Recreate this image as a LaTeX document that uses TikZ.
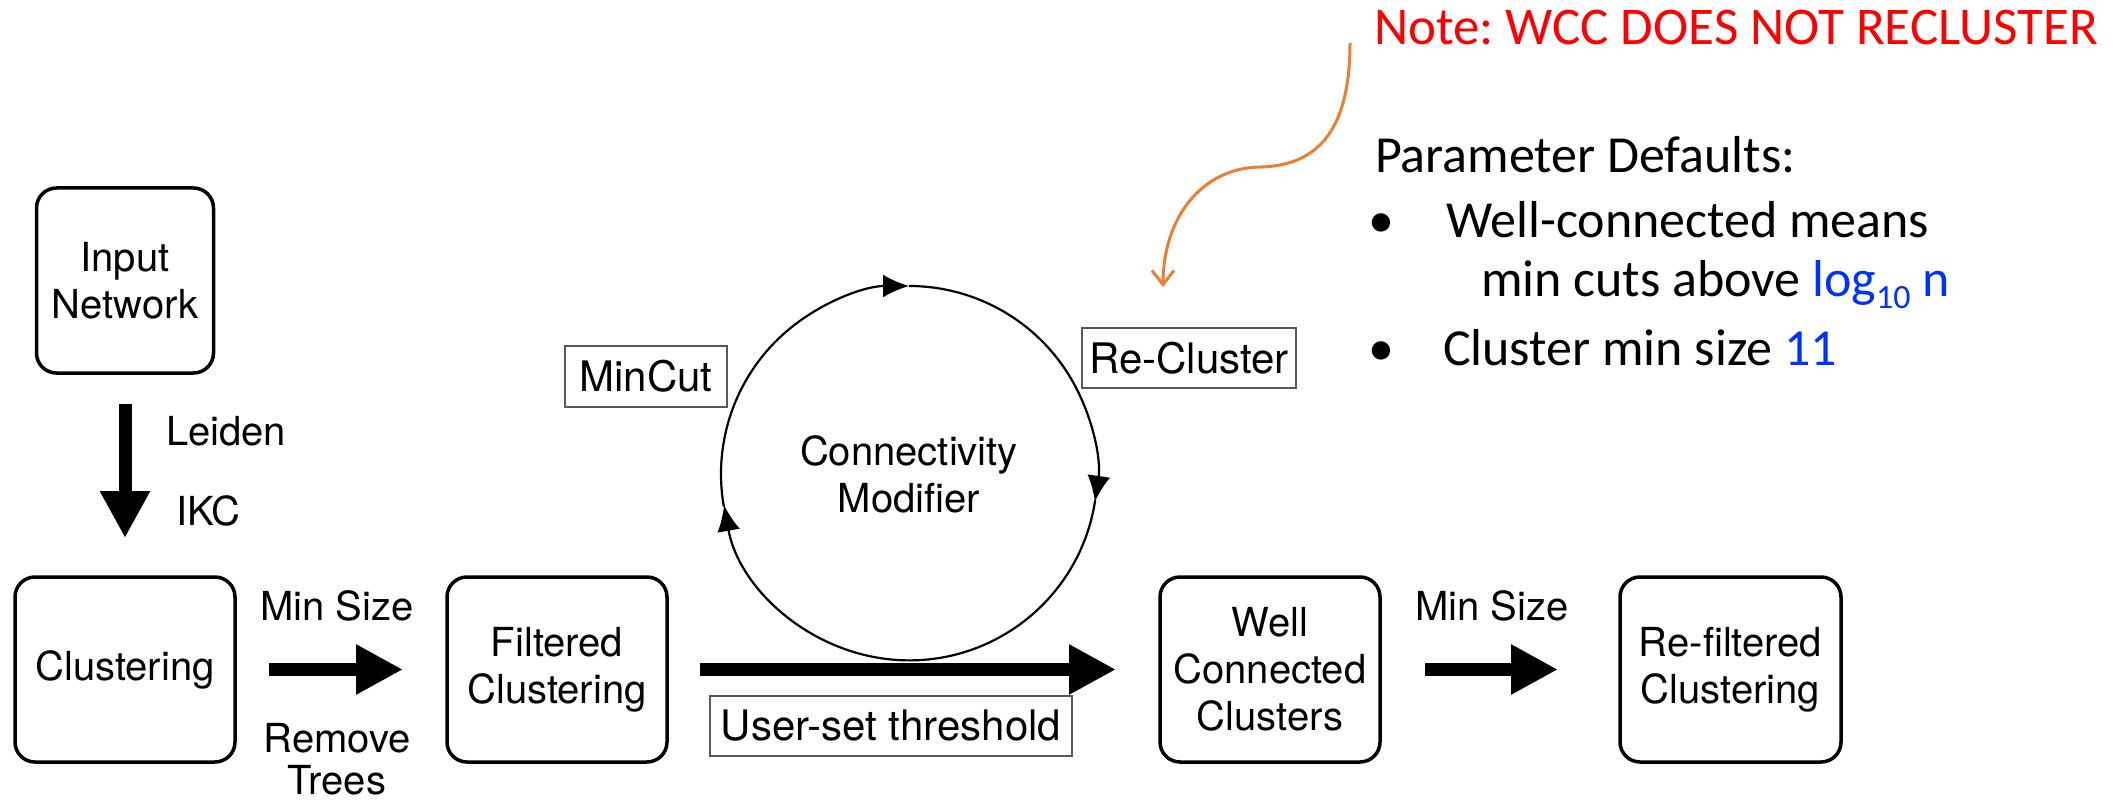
\documentclass[tikz,border=0pt]{standalone}
\usepackage{fontspec}
\setmainfont{TeX Gyre Heros}
\newfontfamily\calfont{Carlito}
\usetikzlibrary{arrows.meta}
\definecolor{noteRed}{RGB}{255,0,0}
\definecolor{valBlue}{RGB}{0,50,255}
\definecolor{curveOrange}{RGB}{237,125,49}
\begin{document}
\frenchspacing
\begin{tikzpicture}[x=1pt,y=1pt,
  stage/.style={draw, line width=3.5pt, rounded corners=20pt, minimum width=220pt, minimum height=185pt, inner sep=0pt, outer sep=0pt, align=center, font=\fontsize{40pt}{47pt}\selectfont},
  lbl/.style={draw=black!65, line width=2pt, inner sep=0pt, outer sep=0pt, minimum height=60pt, font=\fontsize{42pt}{48pt}\selectfont},
  plain/.style={inner sep=0pt, outer sep=0pt, font=\fontsize{40pt}{47pt}\selectfont},
  bigarrow/.style={line width=13pt, -{Triangle[length=47pt,width=47pt]}},
  cyc/.style={line width=2.2pt, -{Latex[length=26pt,width=23pt]}},
  side/.style={inner sep=0pt, outer sep=0pt, anchor=base west, font=\calfont\fontsize{52pt}{60pt}\selectfont},
  callout/.style={draw=curveOrange, line width=3pt, -{Straight Barb[length=14pt,width=22pt]}}
]
\fill[white] (0,0) rectangle (2128,-802);
\useasboundingbox (0,0) rectangle (2128,-802);

% stages
\node[stage, minimum width=177pt] (inp) at (125,-280.5) {Input\\Network};
\node[stage] (clu) at (125,-669.5) {Clustering};
\node[stage] (fil) at (557,-669.5) {Filtered\\Clustering};
\node[stage] (wcc) at (1270,-669.5) {Well\\Connected\\Clusters};
\node[stage, minimum width=221pt] (ref) at (1730.5,-669.5) {Re-filtered\\Clustering};

% big arrows
\draw[bigarrow, shorten <=31pt, shorten >=39pt] (inp) -- (clu);
\draw[bigarrow, shorten <=34pt, shorten >=44pt] (clu) -- (fil);
\draw[bigarrow, shorten <=33pt, shorten >=44pt] (fil) -- (wcc);
\draw[bigarrow, shorten <=45pt, shorten >=62pt] (wcc) -- (ref);

% arrow labels
\node[plain, anchor=base west] (leiden) at (166,-445) {Leiden};
\node[plain, anchor=base west] (ikc) at (176,-525) {IKC};
\node[plain, anchor=base] (ms1) at (337,-620) {Min Size};
\node[plain, anchor=north, align=center, font=\fontsize{40pt}{42pt}\selectfont] (rt) at (337,-723) {Remove\\Trees};
\node[plain, anchor=base] (ms2) at (1492,-620) {Min Size};

% connectivity modifier cycle
\node[circle, minimum size=376pt, inner sep=0pt, outer sep=0pt, align=center, font=\fontsize{40pt}{47pt}\selectfont] (cm) at (909,-474) {Connectivity\\Modifier};
\draw[cyc] (cm.190) arc[start angle=190, end angle=90, radius=188pt];
\draw[cyc] (cm.90) arc[start angle=90, end angle=-8.5, radius=188pt];
\draw[cyc] (cm.-8.5) arc[start angle=-8.5, end angle=-170, radius=188pt];

% boxed labels
\node[lbl, minimum width=162pt, minimum height=61pt] (mc) at (646,-376) {MinCut};
\node[lbl, minimum width=214pt] (rc) at (1189,-358) {Re-Cluster};
\node[lbl, minimum width=362pt] (ust) at (891,-726) {User-set threshold};

% right-hand notes
\node[side, text=noteRed, font=\calfont\fontsize{53pt}{60pt}\selectfont] (note) at (1374,-45) {Note: WCC DOES NOT RECLUSTER};
\node[side] (pd) at (1375,-173) {Parameter Defaults:};
\node[side] (b1) at (1368,-238) {•};
\node[side] (wc) at (1446,-238) {Well-connected means};
\node[side] (mca) at (1481,-297) {min cuts above \textcolor{valBlue}{log\raisebox{-0.22em}{\fontsize{34pt}{34pt}\selectfont 10} n}};
\node[side] (b2) at (1368,-365) {•};
\node[side] (cms) at (1443,-365) {Cluster min size \textcolor{valBlue}{11}};

% orange callout
\coordinate (cs) at (1350,-43);
\coordinate (ce) at (1163,-287);
\draw[callout] (cs) .. controls (1350,-140) and (1310,-165) .. (1262,-167)
  .. controls (1200,-167) and (1163,-220) .. (ce);
\end{tikzpicture}
\end{document}
